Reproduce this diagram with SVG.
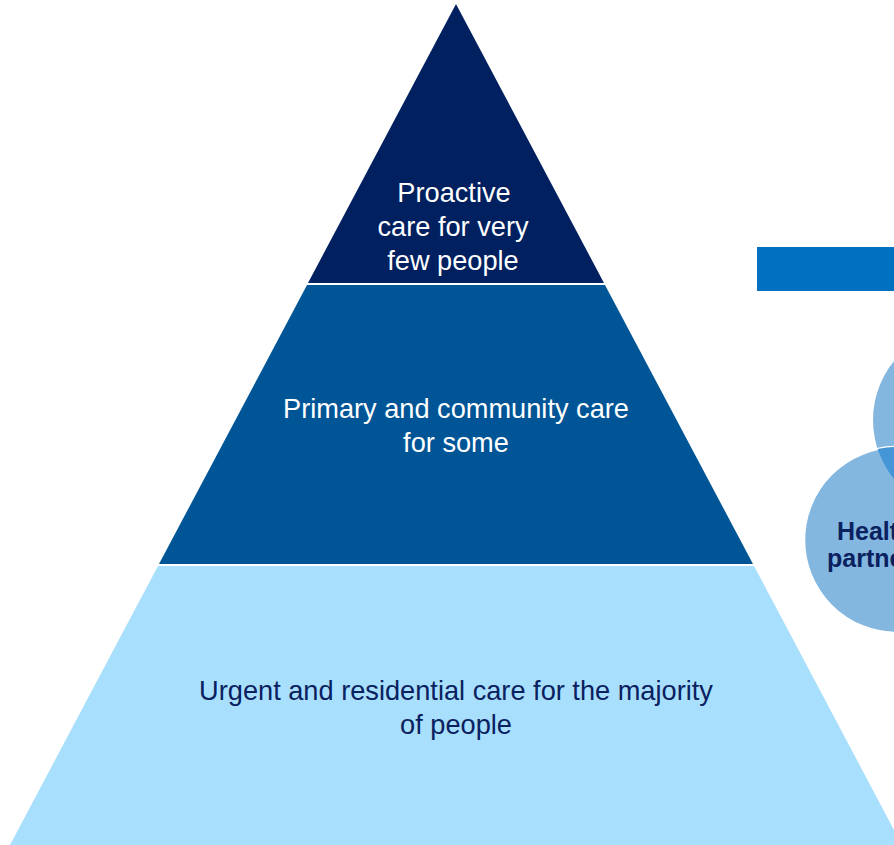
<svg xmlns="http://www.w3.org/2000/svg" width="894" height="845" viewBox="0 0 894 845">
<style>
.lbl{font-family:"Liberation Sans",Arial,sans-serif;font-size:27.2px;text-anchor:middle}
.w{fill:#ffffff}
.d{fill:#0A2160}
.cl{font-family:"Liberation Sans",Arial,sans-serif;font-size:25px;font-weight:bold;fill:#0A2160}
</style>
<defs>
<clipPath id="lowerClip"><circle cx="897" cy="540" r="93"/></clipPath>
</defs>
<rect width="894" height="845" fill="#ffffff"/>
<g id="tier-top">
<polygon points="456,4 604,283 308,283" fill="#002060"/>
<text class="lbl w" x="454" y="202">Proactive</text>
<text class="lbl w" x="453" y="236">care for very</text>
<text class="lbl w" x="453" y="270">few people</text>
</g>
<g id="tier-middle">
<polygon points="307,285 605,285 753,564 159,564" fill="#005596"/>
<text class="lbl w" x="456" y="418">Primary and community care</text>
<text class="lbl w" x="456" y="452">for some</text>
</g>
<g id="tier-bottom">
<polygon points="158,566 754,566 902,845 10,845" fill="#A8DFFD"/>
<text class="lbl d" x="456" y="700">Urgent and residential care for the majority</text>
<text class="lbl d" x="456" y="734">of people</text>
</g>
<g id="header-bar">
<rect x="757" y="247" width="140" height="44" fill="#0070C0"/>
</g>
<g id="circle-upper">
<circle cx="966" cy="420" r="93" fill="#84B7E0"/>
</g>
<g id="circle-lower">
<circle cx="897" cy="540" r="93" fill="#84B7E0" stroke="#ffffff" stroke-width="2.5"/>
<circle cx="966" cy="420" r="93" fill="#4496D6" clip-path="url(#lowerClip)"/>
<text class="cl" x="837" y="540">Health</text>
<text class="cl" x="827" y="567">partners</text>
</g>
</svg>
